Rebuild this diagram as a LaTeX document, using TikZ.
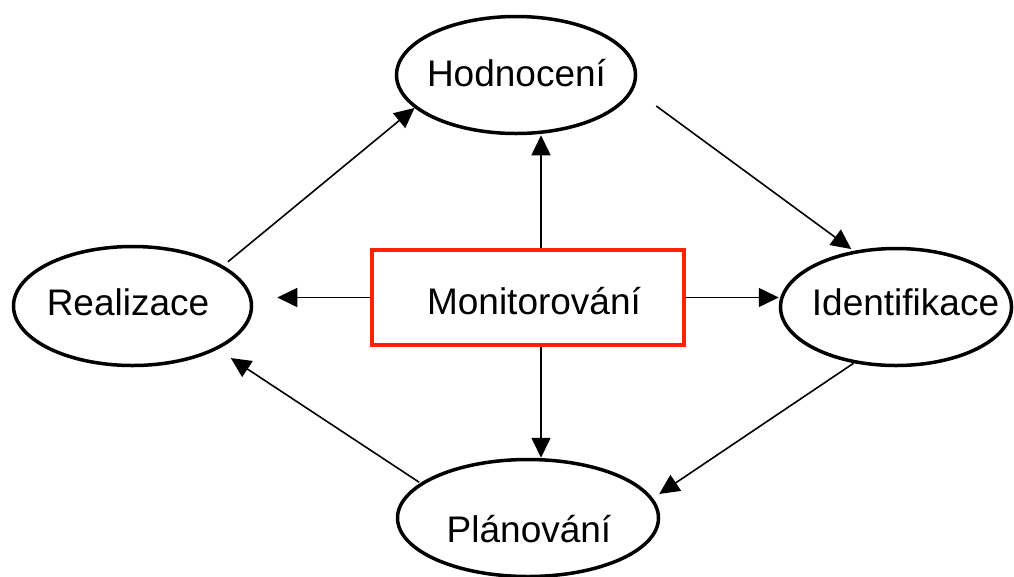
\documentclass[tikz,border=0pt]{standalone}
\usepackage{fontspec}
\setmainfont{Liberation Sans}
\usetikzlibrary{arrows.meta,shapes.geometric}
\definecolor{boxred}{RGB}{255,34,0}
\newcommand\shiftlbl[3]{\raisebox{#2}[0pt][0pt]{\makebox[0pt]{\hspace*{#1}\hspace*{#1}#3}}}
\begin{document}
\begin{tikzpicture}[x=1pt,y=-1pt,
  lbl/.style={font=\fontsize{37}{44}\selectfont},
  oval/.style={ellipse, draw, line width=3.5pt, inner sep=0pt, lbl},
  box/.style={rectangle, draw=boxred, line width=3.5pt, inner sep=0pt, lbl},
  arr/.style={-{Triangle[length=20pt,width=19pt]}, line width=1.6pt}]
\useasboundingbox (0,0) rectangle (1014,576);
\node[oval, minimum width=239pt, minimum height=117pt] (H) at (516,75) {\shiftlbl{0.5pt}{-11.75pt}{Hodnocení}};
\node[oval, minimum width=238pt, minimum height=119pt] (R) at (132.5,306) {\shiftlbl{-4.5pt}{-9.75pt}{Realizace}};
\node[oval, minimum width=231pt, minimum height=117pt] (I) at (896,307) {\shiftlbl{9.5pt}{-8.75pt}{Identifikace}};
\node[oval, minimum width=261pt, minimum height=117pt] (P) at (528,518) {\shiftlbl{1pt}{-24.25pt}{Plánování}};
\node[box, minimum width=312pt, minimum height=95pt] (M) at (528,297.5) {\shiftlbl{6pt}{-17.25pt}{Monitorování}};
% from Monitorovani
\draw[arr, shorten >=24pt] (M.west) -- (M.west -| R.east);
\draw[arr] (M.east) -- (M.east -| I.west);
\draw[arr] ([xshift=13pt]M.north) -- ([xshift=13pt]M.north |- H.south);
\draw[arr] ([xshift=13pt]M.south) -- ([xshift=13pt]M.south |- P.north);
% cycle
\draw[arr, shorten <=6pt] (R.24.2) -- (H.198.4);
\draw[arr, shorten <=28pt, shorten >=3pt] (H.-7.9) -- (I.127.3);
\draw[arr, shorten >=7.6pt] (I.233.4) -- (P.9);
\draw[arr, shorten <=1.5pt, shorten >=15.7pt] (P.162.2) -- (R.-27.6);
\end{tikzpicture}
\end{document}
